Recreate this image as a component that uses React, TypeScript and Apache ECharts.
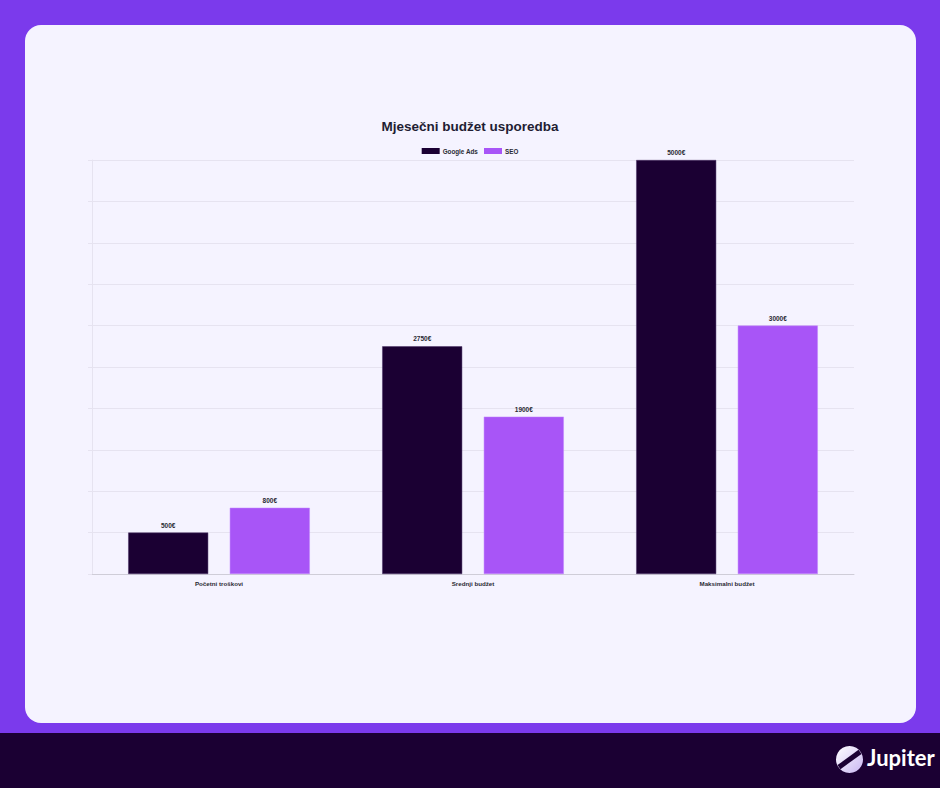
import React, { useEffect, useRef } from "react";
import * as echarts from "echarts";

const categories = ["Početni troškovi", "Srednji budžet", "Maksimalni budžet"];
const googleAds = [500, 2750, 5000];
const seo = [800, 1900, 3000];
const seriesNames = ["Google Ads", "SEO"];

const FONT = "Liberation Sans, Arial, sans-serif";

export default function App() {
  const ref = useRef<HTMLDivElement>(null);
  useEffect(() => {
    if (!ref.current) return;
    const chart = echarts.init(ref.current, null, { renderer: "svg" });
    chart.setOption({
      animation: false,
      backgroundColor: "#1b0033",
      title: {
        text: "Mjesečni budžet usporedba",
        left: "center",
        top: 114,
        textStyle: { fontSize: 13.5, fontWeight: "bold", color: "#1f1d33", fontFamily: FONT },
      },
      legend: {
        top: 143,
        left: "center",
        itemWidth: 18,
        itemHeight: 6,
        itemGap: 6,
        icon: "rect",
        itemStyle: { borderWidth: 0 },
        textStyle: { fontSize: 6.3, fontWeight: "bold", color: "#2a2a33", fontFamily: FONT, padding: [0, 0, 0, -2] },
        data: seriesNames,
      },
      graphic: [
        { type: "rect", z: -10, silent: true, shape: { x: 0, y: 0, width: 940, height: 733 }, style: { fill: "#7b3aec" } },
        { type: "rect", z: -9, silent: true, shape: { x: 25, y: 25, width: 891, height: 698, r: 16 }, style: { fill: "#f5f3ff" } },
        {
          type: "group",
          left: 836,
          top: 746,
          children: [
            { type: "circle", shape: { cx: 14, cy: 14, r: 13.5 }, style: { fill: new echarts.graphic.LinearGradient(0, 0, 1, 1, [ { offset: 0, color: "#ffffff" }, { offset: 1, color: "#c9b6f2" } ]) } },
            { type: "rect", shape: { x: 1, y: 11.5, width: 26, height: 5 }, rotation: Math.PI / 5, originX: 14, originY: 14, style: { fill: "#1b0033" } },
          ],
        },
        {
          type: "text",
          left: 867,
          top: 746,
          style: { text: "Jupiter", fill: "#ffffff", fontSize: 22, fontWeight: "bold", fontFamily: "Lato, Liberation Sans, Arial, sans-serif" },
        },
      ],
      grid: { left: 92, right: 86, top: 160, bottom: 214 },
      xAxis: {
        type: "category",
        data: categories,
        axisLine: { show: true, lineStyle: { color: "#cfcdd8", width: 1 } },
        axisTick: { show: false },
        axisLabel: { fontSize: 6.2, fontWeight: "bold", color: "#2a2a33", margin: 6, fontFamily: FONT },
      },
      yAxis: {
        type: "value",
        min: 0,
        max: 5000,
        interval: 500,
        axisLabel: { show: false },
        axisLine: { show: true, lineStyle: { color: "#e6e3f0", width: 1 } },
        axisTick: { show: true, length: 4, lineStyle: { color: "#e6e3f0" } },
        splitLine: { show: true, lineStyle: { color: "#e6e3f0", width: 1 } },
      },
      series: [
        {
          name: seriesNames[0],
          type: "bar",
          data: googleAds,
          barGap: "27%",
          barCategoryGap: "28.5%",
          itemStyle: { color: "#1b0033", borderColor: "#4a3366", borderWidth: 0.5 },
          label: { show: true, position: "top", formatter: "{c}€", fontSize: 6.5, fontWeight: "bold", color: "#2a2a33", distance: 4, fontFamily: FONT },
        },
        {
          name: seriesNames[1],
          type: "bar",
          data: seo,
          itemStyle: { color: "#a855f7", borderColor: "#c084fc", borderWidth: 0.5 },
          label: { show: true, position: "top", formatter: "{c}€", fontSize: 6.5, fontWeight: "bold", color: "#2a2a33", distance: 4, fontFamily: FONT },
        },
      ],
    });
    return () => chart.dispose();
  }, []);
  return (
    <div style={{ position: "fixed", left: 0, top: 0, width: 940, height: 788, margin: 0 }}>
      <div ref={ref} style={{ width: 940, height: 788 }} />
    </div>
  );
}
